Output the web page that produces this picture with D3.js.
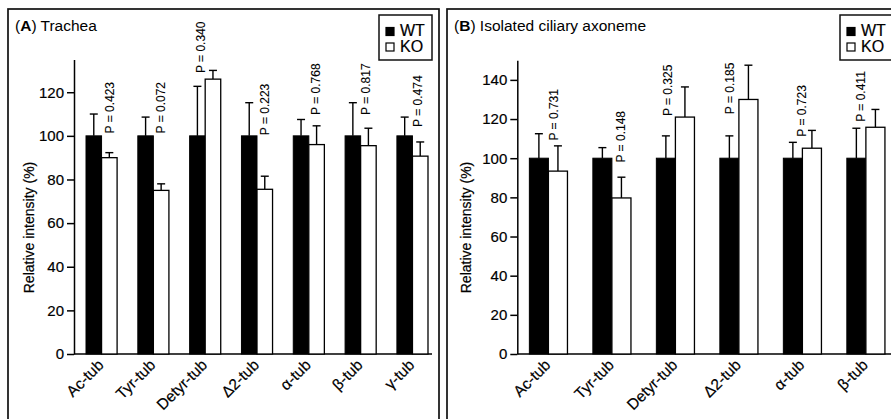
<!DOCTYPE html>
<html>
<head>
<meta charset="utf-8">
<script src="https://cdn.jsdelivr.net/npm/d3@7"></script>
<style>
  html, body { margin: 0; padding: 0; background: #fff; }
  svg { display: block; font-family: 'Liberation Sans', Arial, sans-serif; }
  svg text { stroke: #000; stroke-width: 0.2px; fill: #000; }
  svg text.title { stroke: none; }
</style>
</head>
<body>
<div id="chart"></div>
<script>
// panel A: trachea
const catsA = ['Ac-tub', 'Tyr-tub', 'Detyr-tub', 'Δ2-tub', 'α-tub', 'β-tub', 'γ-tub'];
const wtA = [100, 100, 100, 100, 100, 100, 100];
const wtErrA = [10, 8.6, 22.7, 15.2, 7.5, 15.2, 8.6];
const koA = [90, 75, 126, 75.5, 96, 95.5, 90.7];
const koErrA = [2.3, 3, 4, 6, 8.6, 8, 6.5];
const pA = ['0.423', '0.072', '0.340', '0.223', '0.768', '0.817', '0.474'];
// where the P label starts (in % units) and where it sits across the bar pair (0..1)
const pAtA = [101.1, 101.1, 128.8, 100.3, 109.6, 109.6, 104.1];
const pPosA = [0.75, 0.74, 0.37, 0.75, 0.73, 0.68, 0.66];
const ticksA = [0, 20, 40, 60, 80, 100, 120];

// panel B: isolated ciliary axoneme (last category is cut off in the figure)
const catsB = ['Ac-tub', 'Tyr-tub', 'Detyr-tub', 'Δ2-tub', 'α-tub', 'β-tub'];
const wtB = [100, 100, 100, 100, 100, 100];
const wtErrB = [12.5, 5.4, 11.4, 11.4, 8.1, 15.3];
const koB = [93.4, 79.7, 121, 130, 105.1, 115.8];
const koErrB = [12.9, 10.6, 15.4, 17.5, 9.1, 9.1];
const pB = ['0.731', '0.148', '0.325', '0.185', '0.723', '0.411'];
const pAtB = [109, 97.8, 121.5, 122.5, 111, 118.6];
const pPosB = [0.64, 0.74, 0.29, 0.25, 0.49, 0.37];
const ticksB = [0, 20, 40, 60, 80, 100, 120, 140];

const width = 891, height = 419;

const svg = d3.select('#chart')
  .append('svg')
  .attr('width', width)
  .attr('height', height);

function drawPanel(cfg) {
  const g = svg.append('g');

  // frame (runs off the bottom of the picture)
  g.append('rect')
    .attr('x', cfg.frameX).attr('y', 9)
    .attr('width', cfg.frameW).attr('height', 430)
    .attr('fill', 'none')
    .attr('stroke', '#111')
    .attr('stroke-width', 1.7);

  // title, letter in bold
  const title = g.append('text')
    .attr('class', 'title')
    .attr('x', cfg.frameX + 7).attr('y', 30.5)
    .style('font-size', '15.5px');
  title.append('tspan').text('(');
  title.append('tspan').style('font-weight', 'bold').text(cfg.letter);
  title.append('tspan').text(') ' + cfg.title);

  const y = d3.scaleLinear()
    .domain([0, cfg.yMax])
    .range([354, cfg.yTopPx]);

  const x = d3.scaleBand()
    .domain(cfg.cats)
    .range(cfg.xRange)
    .paddingInner(0.4)
    .paddingOuter(cfg.padOuter);
  const bw = x.bandwidth();

  const yAxis = d3.axisLeft(y)
    .tickValues(cfg.ticks)
    .tickSize(7)
    .tickSizeOuter(0)
    .tickPadding(3);

  const ya = g.append('g')
    .attr('transform', `translate(${cfg.axisX}, 0)`)
    .call(yAxis);
  ya.selectAll('text')
    .style('font-size', '15px')
    .style('font-family', "'Liberation Sans', Arial, sans-serif")
    .attr('fill', '#000');
  ya.selectAll('path, line')
    .attr('stroke', '#000')
    .attr('stroke-width', 1.5);

  // x baseline
  g.append('line')
    .attr('x1', cfg.axisX).attr('x2', cfg.axisEnd)
    .attr('y1', y(0)).attr('y2', y(0))
    .attr('stroke', '#000')
    .attr('stroke-width', 1.5);

  const rows = cfg.cats.map((c, i) => ({
    cat: c, wt: cfg.wt[i], wtErr: cfg.wtErr[i], ko: cfg.ko[i], koErr: cfg.koErr[i],
    p: cfg.p[i], pAt: cfg.pAt[i], pPos: cfg.pPos[i]
  }));

  const grp = g.selectAll('.pair')
    .data(rows)
    .enter()
    .append('g')
    .attr('class', 'pair')
    .attr('transform', d => `translate(${x(d.cat)}, 0)`);

  // error bars first so the bar outline sits on top of the base
  const errs = [
    { key: 'wt', err: 'wtErr', cx: bw / 4 },
    { key: 'ko', err: 'koErr', cx: bw * 3 / 4 }
  ];
  errs.forEach(e => {
    grp.append('line')
      .attr('x1', e.cx).attr('x2', e.cx)
      .attr('y1', d => y(d[e.key]))
      .attr('y2', d => y(d[e.key] + d[e.err]))
      .attr('stroke', '#000').attr('stroke-width', 1.4);
    grp.append('line')
      .attr('x1', e.cx - 4).attr('x2', e.cx + 4)
      .attr('y1', d => y(d[e.key] + d[e.err]))
      .attr('y2', d => y(d[e.key] + d[e.err]))
      .attr('stroke', '#000').attr('stroke-width', 1.4);
  });

  grp.append('rect')
    .attr('x', 0)
    .attr('y', d => y(d.wt))
    .attr('width', bw / 2)
    .attr('height', d => y(0) - y(d.wt))
    .attr('fill', '#000')
    .attr('stroke', '#000')
    .attr('stroke-width', 1);

  grp.append('rect')
    .attr('x', bw / 2)
    .attr('y', d => y(d.ko))
    .attr('width', bw / 2)
    .attr('height', d => y(0) - y(d.ko))
    .attr('fill', '#fff')
    .attr('stroke', '#000')
    .attr('stroke-width', 1.3);

  // P values, written upwards
  grp.append('text')
    .attr('transform', d => `translate(${d.pPos * bw}, ${y(d.pAt)}) rotate(-90)`)
    .attr('dy', '0.35em')
    .style('font-size', '12px')
    .style('stroke-width', '0.1px')
    .text(d => 'P = ' + d.p);

  // category labels at 45 degrees
  grp.append('text')
    .attr('transform', `translate(${bw / 2 + 3}, 366) rotate(-45)`)
    .attr('text-anchor', 'end')
    .style('font-size', '15.5px')
    .text(d => d.cat);

  g.append('text')
    .attr('transform', `translate(${cfg.labelX}, 227.5) rotate(-90)`)
    .attr('text-anchor', 'middle')
    .attr('dy', '0.35em')
    .style('font-size', '14px')
    .text('Relative intensity (%)');

  // legend
  const lg = g.append('g').attr('transform', `translate(${cfg.legendX}, 15)`);
  lg.append('rect')
    .attr('width', 53).attr('height', 45)
    .attr('fill', '#fff')
    .attr('stroke', '#111')
    .attr('stroke-width', 1.5);
  [['WT', '#000'], ['KO', '#fff']].forEach((it, i) => {
    lg.append('rect')
      .attr('x', 7).attr('y', 12.5 + i * 15.5)
      .attr('width', 8).attr('height', 8)
      .attr('fill', it[1])
      .attr('stroke', '#000')
      .attr('stroke-width', 1.2);
    lg.append('text')
      .attr('x', 21).attr('y', 21 + i * 15.8)
      .style('font-size', '16px')
      .text(it[0]);
  });
}

drawPanel({
  frameX: 8, frameW: 431, letter: 'A', title: 'Trachea',
  cats: catsA, wt: wtA, wtErr: wtErrA, ko: koA, koErr: koErrA,
  p: pA, pAt: pAtA, pPos: pPosA, ticks: ticksA,
  yMax: 135, yTopPx: 59.5,
  axisX: 74, axisEnd: 432, xRange: [74, 440], padOuter: 0.2317,
  labelX: 29, legendX: 379
});

drawPanel({
  frameX: 447, frameW: 470, letter: 'B', title: 'Isolated ciliary axoneme',
  cats: catsB, wt: wtB, wtErr: wtErrB, ko: koB, koErr: koErrB,
  p: pB, pAt: pAtB, pPos: pPosB, ticks: ticksB,
  yMax: 150, yTopPx: 60.3,
  axisX: 517.3, axisEnd: 900, xRange: [517.3, 897], padOuter: 0.19,
  labelX: 466.5, legendX: 840
});
</script>
</body>
</html>
